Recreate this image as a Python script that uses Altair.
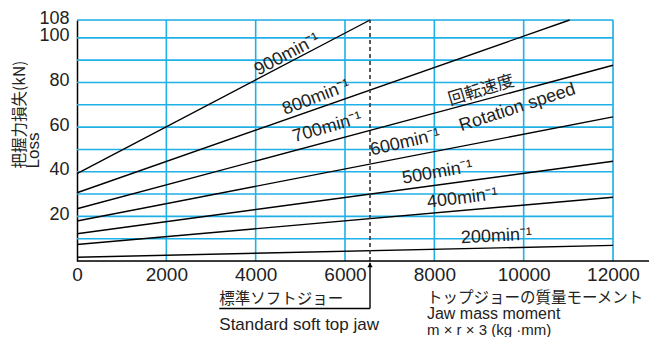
import altair as alt
import pandas as pd

# ---- data ----
speeds = ["900", "800", "700", "600", "500", "400", "200"]
y_start = [39.2, 30.6, 23.4, 17.9, 12.2, 7.4, 1.7]
x_end = [6560, 11030, 12000, 12000, 12000, 12000, 12000]
y_end = [108, 108, 87.7, 64.6, 44.7, 28.6, 7.0]

x_ticks = [0, 2000, 4000, 6000, 8000, 10000, 12000]
y_ticks = [20, 40, 60, 80, 100, 108]
h_grid = [10, 20, 30, 40, 50, 60, 70, 80, 90, 100, 108]
v_grid = [2000, 4000, 6000, 8000, 10000, 12000]
std_jaw_x = 6560

# rotated labels on the lines
lab_text = ["900min⁻¹", "800min⁻¹", "700min⁻¹", "600min⁻¹", "500min⁻¹",
            "400min⁻¹", "200min⁻¹", "回転速度", "Rotation speed"]
lab_x = [4708, 5360, 5605, 7350, 8070, 8630, 9390, 9050, 9860]
lab_y = [92.5, 73.2, 59.8, 53.0, 39.6, 28.0, 11.0, 76.4, 68.7]
lab_angle = [332, 339, 344, 347, 350, 353, 357, 343, 342]

# texts below the axis
bot_text = ["標準ソフトジョー", "Standard soft top jaw", "トップジョーの質量モーメント",
            "Jaw mass moment", "m × r × 3 (kg ·mm)"]
bot_x = [3186, 3186, 7835, 7835, 7835]
bot_y = [-16.9, -28.6, -16.6, -23.9, -30.7]
bot_size = [15.5, 17, 15.5, 16, 15]
bot_font = ["Noto Sans CJK JP", "Liberation Sans", "Noto Sans CJK JP",
            "Liberation Sans", "Liberation Sans"]
underline_y = -21.3

ytitle_text = ["把握力損失(kN)", "Loss"]
ytitle_x = [-1280, -965]
ytitle_y = [41.5, 41.5]
ytitle_font = ["Noto Sans CJK JP", "Liberation Sans"]
ytitle_size = [15.5, 17]

GRID = "#1fb0e8"
W, H = 536, 241

rows = []
for s, y0, x1, y1 in zip(speeds, y_start, x_end, y_end):
    rows.append({"speed": s, "x": 0, "y": y0})
    rows.append({"speed": s, "x": x1, "y": y1})
lines_df = pd.DataFrame(rows)

xs = alt.Scale(domain=[0, 12000], nice=False, zero=False)
ys = alt.Scale(domain=[0, 108], nice=False, zero=False)

hgrid = alt.Chart(pd.DataFrame({"y": h_grid, "x0": 0, "x1": 12000})).mark_rule(
    color=GRID, strokeWidth=1.6).encode(
    y=alt.Y("y:Q", scale=ys), x=alt.X("x0:Q", scale=xs), x2="x1:Q")

vgrid = alt.Chart(pd.DataFrame({"x": v_grid, "y0": 0, "y1": 108})).mark_rule(
    color=GRID, strokeWidth=1.6).encode(
    x=alt.X("x:Q", scale=xs), y=alt.Y("y0:Q", scale=ys), y2="y1:Q")

lines = alt.Chart(lines_df).mark_line(color="black", strokeWidth=1.4).encode(
    x=alt.X("x:Q", scale=xs, title=None,
            axis=alt.Axis(values=x_ticks, grid=False, ticks=False, domain=False,
                          labelFont="Liberation Sans", labelFontSize=19,
                          labelColor="#222", labelPadding=4, labelOverlap=False,
                          labelFlush=False, format="d")),
    y=alt.Y("y:Q", scale=ys, title=None,
            axis=alt.Axis(values=y_ticks, grid=False, ticks=False, domain=True,
                          domainColor="black", domainWidth=1.5,
                          labelFont="Liberation Sans", labelFontSize=18,
                          labelColor="#222", labelPadding=8, labelOverlap=False,
                          labelOffset=-2, labelFlush=False, format="d")),
    detail="speed:N")

dashed = alt.Chart(pd.DataFrame({"x": [std_jaw_x], "y0": [0], "y1": [108]})).mark_rule(
    color="#333", strokeWidth=1.6, strokeDash=[4, 3]).encode(
    x=alt.X("x:Q", scale=xs), y=alt.Y("y0:Q", scale=ys), y2="y1:Q")

stem = alt.Chart(pd.DataFrame({"x": [std_jaw_x], "y0": [underline_y], "y1": [-0.8]})).mark_rule(
    color="black", strokeWidth=1.4).encode(
    x=alt.X("x:Q", scale=xs), y=alt.Y("y0:Q", scale=ys), y2="y1:Q")

underline = alt.Chart(pd.DataFrame({"x0": [bot_x[0]], "x1": [std_jaw_x], "y": [underline_y]})).mark_rule(
    color="black", strokeWidth=1.4).encode(
    x=alt.X("x0:Q", scale=xs), x2="x1:Q", y=alt.Y("y:Q", scale=ys))

arrowhead = alt.Chart(pd.DataFrame({"x": [std_jaw_x], "y": [-1.8]})).mark_point(
    shape="triangle-up", filled=True, color="black", size=28, opacity=1).encode(
    x=alt.X("x:Q", scale=xs), y=alt.Y("y:Q", scale=ys))

xaxis_line = alt.Chart(pd.DataFrame({"x0": [0], "x1": [12900], "y": [0]})).mark_rule(
    color="black", strokeWidth=1.5).encode(
    x=alt.X("x0:Q", scale=xs), x2="x1:Q", y=alt.Y("y:Q", scale=ys))

lab_df = pd.DataFrame({"t": lab_text, "x": lab_x, "y": lab_y, "a": lab_angle})
lab_df["font"] = ["Liberation Sans"] * 7 + ["Noto Sans CJK JP", "Liberation Sans"]
labels_lat = alt.Chart(lab_df[lab_df["font"] == "Liberation Sans"]).mark_text(
    font="Liberation Sans", fontSize=18, color="#222", align="center", baseline="middle").encode(
    x=alt.X("x:Q", scale=xs), y=alt.Y("y:Q", scale=ys), text="t:N",
    angle=alt.Angle("a:Q", scale=None))
labels_jp = alt.Chart(lab_df[lab_df["font"] != "Liberation Sans"]).mark_text(
    font="Noto Sans CJK JP", fontSize=17, color="#222", align="center", baseline="middle").encode(
    x=alt.X("x:Q", scale=xs), y=alt.Y("y:Q", scale=ys), text="t:N",
    angle=alt.Angle("a:Q", scale=None))

bot_layers = []
for t, x, y, s, f in zip(bot_text, bot_x, bot_y, bot_size, bot_font):
    bot_layers.append(
        alt.Chart(pd.DataFrame({"t": [t], "x": [x], "y": [y]})).mark_text(
            font=f, fontSize=s, color="#222", align="left", baseline="middle").encode(
            x=alt.X("x:Q", scale=xs), y=alt.Y("y:Q", scale=ys), text="t:N"))

ytitle_layers = []
for t, x, y, f, s in zip(ytitle_text, ytitle_x, ytitle_y, ytitle_font, ytitle_size):
    ytitle_layers.append(
        alt.Chart(pd.DataFrame({"t": [t], "x": [x], "y": [y]})).mark_text(
            font=f, fontSize=s, color="#222", align="left", baseline="middle", angle=270).encode(
            x=alt.X("x:Q", scale=xs), y=alt.Y("y:Q", scale=ys), text="t:N"))

chart = alt.layer(
    hgrid, vgrid, lines, dashed, stem, underline, arrowhead, xaxis_line,
    labels_lat, labels_jp, *bot_layers, *ytitle_layers
).properties(
    width=W, height=H,
    autosize=alt.AutoSizeParams(type="none"),
    padding={"left": 69, "top": 12, "right": 36, "bottom": 76},
).configure_view(stroke=None).configure(background="white")

chart.save("out.html", embed_options={"renderer": "svg", "actions": False})
